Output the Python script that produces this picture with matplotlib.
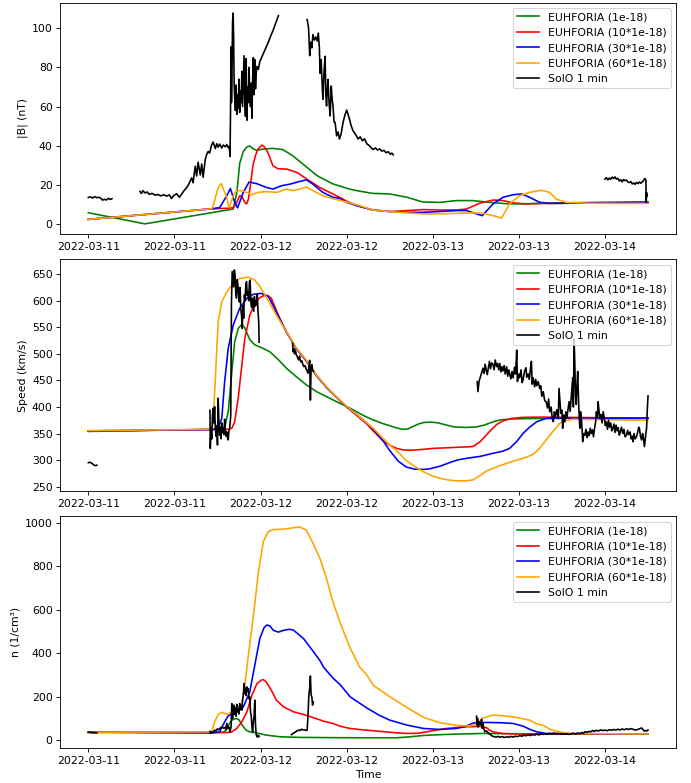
#!/usr/bin/env python3
"""
EUHFORIA runs vs SolO 1 min data: |B|, speed and density
"""
import numpy as np
import matplotlib
matplotlib.use('Agg')
import matplotlib.pyplot as plt
import matplotlib.dates as mdates

# time is in hours after 2022-03-11 00:00, rows are (hour, value)
START = np.datetime64('2022-03-11T00:00:00')

labels = ['EUHFORIA (1e-18)', 'EUHFORIA (10*1e-18)',
          'EUHFORIA (30*1e-18)', 'EUHFORIA (60*1e-18)', 'SolO 1 min']
colors = ['green', 'red', 'blue', 'orange', 'black']

# ---- |B| (nT) ----
green_b = [(0, 5.7), (7.9, 0.0), (20.2, 7.6), (20.7, 16), (21.1, 31), (21.6, 37),
           (22.1, 39.3), (22.5, 39.8), (23.0, 38.3), (23.5, 37.6), (24.3, 38.2),
           (25.7, 38.6), (27.1, 38.0), (28.5, 34.8), (29.9, 30.6), (31.9, 24.6),
           (34.1, 20.4), (36.4, 17.8), (37.4, 17.0), (39.6, 15.6), (42.0, 15.3),
           (44.4, 13.6), (46.6, 11.2), (49.0, 11.0), (51.3, 11.9), (53.6, 11.9),
           (55.9, 11.0), (58.3, 10.3), (60.5, 10.2), (63.0, 10.5), (66.0, 10.7),
           (71.0, 11.0), (78.0, 11.3)]
red_b = [(0, 2.3), (17.2, 7.7), (19.5, 8.0), (20.2, 8.3), (20.7, 11.0), (21.1, 14.4),
         (21.4, 14.0), (21.8, 11.0), (22.06, 10.2), (22.3, 12.5), (22.6, 20),
         (22.94, 29.7), (23.3, 35), (23.64, 38.2), (24.2, 40.3), (24.5, 39.5),
         (25.03, 36.5), (25.72, 29.7), (26.42, 28.2), (27.67, 28.0), (29.07, 26.3),
         (30.46, 22.9), (32.27, 18.6), (34.08, 15.3), (35.1, 13.4), (36.0, 11.6),
         (37.4, 9.4), (39.65, 7.1), (42.0, 6.3), (44.4, 6.8), (46.6, 7.3), (49.0, 7.1),
         (51.3, 7.1), (52.7, 7.6), (54.5, 10.5), (56.4, 12.2), (57.8, 11.9),
         (59.2, 10.7), (61.1, 10.2), (63.0, 10.4), (70.0, 10.7), (78.0, 10.9)]
blue_b = [(0, 2.3), (17.2, 7.7), (18.3, 8.3), (19.3, 14.4), (19.8, 18.1), (20.4, 11.0),
          (20.8, 8.2), (21.6, 16.1), (22.4, 21.4), (23.45, 20.6), (24.85, 18.6),
          (25.72, 17.8), (26.94, 19.5), (28.09, 20.3), (29.48, 21.7), (30.4, 22.5),
          (31.3, 20.3), (32.69, 16.1), (34.08, 13.6), (35.06, 13.0), (35.99, 11.0),
          (37.42, 9.3), (39.65, 7.1), (42.0, 6.3), (44.4, 5.9), (46.6, 5.9), (49.0, 6.3),
          (51.3, 6.8), (52.7, 6.8), (54.1, 5.1), (54.9, 4.2), (56.4, 10.2), (57.8, 13.6),
          (59.2, 14.9), (60.4, 15.3), (61.5, 13.6), (62.9, 11.0), (64.3, 10.5),
          (70.0, 10.6), (78.0, 10.9)]
orange_b = [(0, 2.3), (17.2, 7.7), (17.4, 9.3), (18.1, 18.6), (18.5, 20.6), (19.2, 14.4),
            (19.64, 8.2), (20.19, 14.4), (20.67, 17.0), (21.36, 17.0), (22.06, 16.1),
            (22.76, 14.9), (23.68, 16.1), (24.85, 16.5), (26.24, 16.1), (27.63, 17.8),
            (28.51, 17.0), (29.48, 17.8), (30.42, 18.8), (31.3, 17.0), (32.69, 14.4),
            (34.08, 12.9), (35.99, 11.2), (37.84, 9.3), (39.65, 7.1), (42.0, 6.3),
            (44.4, 5.6), (46.6, 5.1), (49.0, 5.1), (51.3, 5.4), (53.6, 5.6), (55.0, 5.4),
            (56.4, 4.2), (57.6, 3.0), (58.7, 10.2), (60.1, 14.4), (61.5, 16.1),
            (63.1, 17.2), (64.3, 16.1), (65.2, 12.7), (66.6, 11.0), (70.0, 10.5),
            (78.0, 10.5)]
solo_b = [(0.0, 13.5), (0.3, 13.8), (0.6, 13.2), (0.9, 13.9), (1.2, 13.4), (1.5, 13.6),
          (1.8, 12.9), (2.0, 12.1), (2.2, 12.6), (2.5, 12.2), (2.8, 13.0), (3.1, 12.5),
          (3.3, 12.9), (5.0, np.nan),
          (7.2, 16.6), (7.4, 15.5), (7.6, 17.0), (7.9, 15.8), (8.2, 16.3), (8.5, 15.1),
          (8.9, 15.6), (9.3, 14.7), (9.7, 15.0), (10.1, 14.3), (10.5, 14.9), (10.9, 14.2),
          (11.3, 14.8), (11.6, 13.0), (11.9, 14.5), (12.3, 15.4), (12.7, 13.6),
          (13.0, 15.2), (13.3, 16.8), (13.7, 18.5), (14.0, 20.3), (14.4, 23.5),
          (14.6, 21.0), (14.9, 29.5), (15.1, 24.5), (15.3, 31.5), (15.6, 25.0),
          (15.8, 30.6), (16.0, 23.8), (16.3, 33.0), (16.5, 35.5), (16.7, 37.0),
          (16.9, 36.2), (17.2, 40.5), (17.4, 41.8), (17.7, 38.5), (17.9, 41.0),
          (18.1, 39.2), (18.3, 40.8), (18.6, 38.8), (18.8, 40.3), (19.1, 39.4),
          (19.3, 40.6), (19.5, 38.9), (19.65, 39.6), (19.75, 34.5), (19.82, 58.0),
          (19.88, 90.5), (19.95, 62.0), (20.02, 75.0), (20.1, 103.0), (20.18, 107.8),
          (20.25, 96.0), (20.32, 72.0), (20.4, 64.0), (20.5, 58.0), (20.6, 71.0),
          (20.7, 56.0), (20.8, 66.0), (20.9, 59.0), (21.0, 74.0), (21.1, 57.0),
          (21.2, 68.0), (21.3, 62.0), (21.4, 78.0), (21.5, 60.0), (21.6, 73.0),
          (21.7, 86.0), (21.8, 64.0), (21.9, 55.0), (22.0, 84.5), (22.1, 53.0),
          (22.2, 70.0), (22.3, 62.0), (22.4, 80.0), (22.5, 66.0), (22.6, 60.0),
          (22.7, 72.0), (22.8, 54.0), (22.9, 74.0), (23.0, 85.0), (23.1, 66.0),
          (23.2, 84.0), (23.3, 69.0), (23.4, 77.0), (23.5, 80.5), (23.7, 79.0),
          (23.9, 83.0), (24.2, 85.5), (24.5, 88.0), (24.8, 90.5), (25.1, 93.0),
          (25.4, 96.0), (25.7, 98.5), (26.0, 101.5), (26.3, 104.5), (26.5, 106.5),
          (28.0, np.nan),
          (30.5, 104.5), (30.7, 100.0), (30.85, 86.0), (31.0, 93.0), (31.15, 90.0),
          (31.3, 96.8), (31.5, 94.0), (31.7, 95.5), (31.9, 93.5), (32.05, 97.6),
          (32.2, 90.0), (32.3, 77.0), (32.45, 84.0), (32.6, 70.0), (32.7, 63.7),
          (32.85, 78.0), (33.0, 85.7), (33.1, 66.0), (33.2, 60.3), (33.3, 68.0),
          (33.4, 73.9), (33.55, 62.0), (33.7, 55.2), (33.85, 70.5), (34.0, 63.0),
          (34.1, 60.3), (34.25, 52.0), (34.4, 51.8), (34.6, 45.0), (34.8, 47.0),
          (35.0, 43.4), (35.2, 45.5), (35.5, 51.8), (35.75, 55.5), (36.0, 58.2),
          (36.2, 56.0), (36.4, 53.5), (36.6, 50.5), (36.9, 47.5), (37.2, 46.0),
          (37.6, 43.4), (37.9, 44.5), (38.2, 42.5), (38.5, 43.5), (38.8, 41.0),
          (39.1, 40.2), (39.4, 39.0), (39.7, 38.0), (40.0, 38.8), (40.3, 37.8),
          (40.6, 38.3), (40.9, 37.2), (41.2, 37.6), (41.5, 36.4), (41.8, 36.9),
          (42.1, 35.6), (42.3, 36.2), (42.5, 35.3),
          (55.0, np.nan),
          (72.0, 22.9), (72.2, 23.6), (72.4, 22.5), (72.6, 23.4), (72.8, 22.8),
          (73.0, 23.9), (73.2, 23.2), (73.4, 24.0), (73.6, 22.9), (73.8, 23.3),
          (74.0, 21.9), (74.2, 22.6), (74.4, 21.5), (74.6, 22.7), (74.8, 22.1),
          (75.0, 22.4), (75.2, 21.4), (75.4, 21.1), (75.6, 21.6), (75.8, 20.4),
          (76.0, 20.9), (76.2, 20.2), (76.4, 21.2), (76.6, 20.6), (76.8, 21.4),
          (77.0, 20.8), (77.2, 21.5), (77.4, 22.3), (77.55, 23.2), (77.7, 22.6),
          (77.75, 11.0), (77.8, 16.0), (77.85, 14.2)]

# ---- Speed (km/s) ----
green_v = [(0, 354), (17.2, 358), (18.5, 359), (19.0, 361), (19.5, 391), (20.0, 466),
           (20.4, 523), (20.9, 548), (21.4, 555.8), (21.8, 549), (22.5, 527),
           (23.2, 517), (24.1, 512), (25.3, 504), (26.5, 489), (27.6, 473), (29.0, 457),
           (30.4, 441.5), (31.8, 429), (33.2, 419.5), (34.6, 410), (36.0, 401),
           (37.4, 391), (38.5, 383), (39.7, 375.6), (41.0, 369), (42.0, 364.9),
           (43.0, 360.5), (43.8, 358), (44.5, 358.5), (45.2, 363), (46.0, 368),
           (46.8, 371), (47.8, 371.5), (48.8, 370), (49.9, 366), (51.0, 362.5),
           (52.5, 361.5), (54.1, 362.5), (55.2, 366), (56.4, 372), (57.5, 376),
           (59.2, 377.5), (61.0, 378), (63.0, 378.5), (70.0, 379), (78.0, 379.5)]
red_v = [(0, 355), (17.2, 357.5), (19.5, 358), (20.0, 360), (20.4, 372), (20.9, 418),
         (21.4, 479), (21.8, 528), (22.5, 573), (23.2, 595), (23.9, 606), (24.5, 610),
         (25.0, 610), (25.5, 605), (26.2, 582), (27.0, 558), (27.6, 542), (29.0, 510),
         (30.4, 486), (31.8, 459), (33.2, 437), (34.6, 418), (36.0, 400), (37.4, 384),
         (38.8, 368), (39.7, 355), (41.0, 337), (42.0, 328), (43.0, 322), (44.0, 319),
         (45.0, 318.5), (46.0, 319.5), (48.0, 322), (50.4, 323.5), (53.6, 325.5),
         (54.6, 334.7), (55.9, 353.6), (56.9, 367), (57.8, 374), (59.0, 378.5),
         (60.5, 380.5), (63.0, 381), (70.0, 380), (78.0, 379)]
blue_v = [(0, 355), (17.2, 357.5), (18.1, 359), (18.6, 378.8), (19.0, 447.7),
          (19.5, 510.6), (20.2, 554.5), (21.1, 586), (22.1, 604.8), (23.0, 612.3),
          (24.1, 614), (25.1, 608), (25.8, 590), (26.5, 570), (27.6, 541), (29.0, 510),
          (30.4, 487), (31.8, 459), (33.2, 437), (34.6, 418.5), (36.0, 400), (37.4, 386),
          (38.8, 370), (39.7, 358), (41.0, 338), (42.0, 318), (43.2, 298), (44.3, 287),
          (45.5, 283), (46.7, 282.5), (47.5, 283.5), (49.0, 288.5), (50.5, 296),
          (51.5, 300.5), (53.0, 304), (54.6, 307), (56.4, 312.8), (57.8, 317),
          (58.7, 322), (59.7, 335), (60.6, 350.5), (61.5, 362), (62.5, 372.4),
          (63.8, 378.5), (65.0, 379), (70.0, 379), (78.0, 378.5)]
orange_v = [(0, 355.5), (17.2, 358), (17.35, 366), (17.5, 400), (17.8, 479), (18.1, 561),
            (18.6, 598), (19.3, 617), (20.2, 633), (21.1, 642), (22.3, 644.5),
            (23.2, 639), (23.9, 627), (24.9, 605), (26.2, 573), (27.6, 542), (29.0, 511),
            (30.4, 488), (31.8, 460), (33.2, 438), (34.6, 419), (36.0, 401), (37.4, 386),
            (38.8, 370), (39.7, 360), (41.0, 342), (42.0, 328.5), (43.4, 312),
            (44.3, 299), (45.5, 288), (46.7, 278.2), (48.0, 270), (49.0, 265.8),
            (50.2, 262.5), (51.3, 261), (52.5, 261), (53.6, 262.6), (54.5, 270),
            (55.5, 279.6), (57.0, 287.7), (58.3, 294), (59.7, 300), (61.1, 305.5),
            (62.0, 311), (62.9, 322.3), (63.8, 338), (64.8, 355), (65.7, 369.4),
            (66.4, 374), (67.5, 377), (70.0, 376.5), (78.0, 375)]
solo_v = [(0.0, 295), (0.15, 296), (0.3, 295.5), (0.5, 294), (0.7, 291.5), (0.9, 290),
          (1.05, 289.5), (1.2, 290.5), (8.0, np.nan),
          (16.95, 394), (17.0, 322), (17.1, 360), (17.2, 340), (17.3, 385), (17.4, 397.6),
          (17.5, 370), (17.6, 400.6), (17.7, 360), (17.8, 345), (17.9, 365),
          (18.0, 328.5), (18.1, 416.5), (18.2, 372), (18.3, 347), (18.4, 362),
          (18.5, 340), (18.6, 370), (18.7, 352), (18.8, 360), (18.9, 348), (19.0, 377),
          (19.1, 358), (19.2, 345), (19.3, 353), (19.4, 342), (19.5, 338), (19.6, 355),
          (19.7, 360), (19.85, 383.5), (19.95, 598), (20.05, 655), (20.15, 640),
          (20.25, 626), (20.35, 658), (20.45, 649), (20.55, 615), (20.65, 605),
          (20.75, 640), (20.85, 630), (20.95, 610), (21.05, 598), (21.15, 625),
          (21.25, 585), (21.35, 573), (21.45, 548), (21.55, 590), (21.65, 567),
          (21.75, 611), (21.85, 600), (21.95, 630), (22.05, 636), (22.15, 610),
          (22.25, 617), (22.35, 600), (22.45, 636), (22.55, 639), (22.65, 598),
          (22.75, 588), (22.85, 605), (22.95, 592), (23.05, 580), (23.15, 608),
          (23.25, 590), (23.35, 600), (23.45, 592), (23.55, 612), (23.65, 579.6),
          (23.75, 560), (23.8, 522), (26.0, np.nan),
          (28.46, 520), (28.55, 504), (28.65, 510), (28.75, 500), (28.85, 507),
          (29.0, 498), (29.15, 494), (29.3, 488.6), (29.45, 496), (29.6, 485),
          (29.75, 487), (29.9, 480), (30.05, 476), (30.2, 478), (30.35, 472),
          (30.5, 468), (30.6, 463.6), (30.7, 470), (30.85, 488), (30.95, 413),
          (31.05, 475), (31.15, 479.8), (31.25, 470), (31.4, 467), (45.0, np.nan),
          (54.2, 447.7), (54.3, 429), (54.45, 448), (54.6, 455), (54.8, 465), (55.0, 473),
          (55.15, 463), (55.3, 480.5), (55.45, 470), (55.6, 461), (55.75, 474),
          (55.9, 486), (56.05, 472), (56.2, 483), (56.4, 480), (56.55, 470),
          (56.7, 488.6), (56.9, 476), (57.05, 482), (57.2, 470), (57.35, 482),
          (57.5, 466), (57.65, 476), (57.8, 468), (57.95, 478), (58.1, 462), (58.3, 476),
          (58.45, 458), (58.6, 470), (58.75, 460), (58.9, 453), (59.05, 467),
          (59.2, 455), (59.4, 475), (59.55, 462), (59.7, 507), (59.8, 448),
          (59.95, 462), (60.1, 455), (60.3, 470), (60.45, 446), (60.6, 452),
          (60.8, 468), (61.0, 474), (61.1, 456), (61.3, 462), (61.45, 452), (61.6, 470),
          (61.75, 486), (61.85, 443), (62.0, 455), (62.2, 438), (62.35, 452),
          (62.5, 440), (62.7, 448), (62.9, 435), (63.05, 440), (63.2, 420), (63.4, 429),
          (63.6, 412), (63.8, 410), (64.0, 398), (64.15, 415), (64.3, 391), (64.5, 400),
          (64.65, 378), (64.8, 372.4), (64.95, 391), (65.1, 382), (65.3, 395),
          (65.5, 378), (65.6, 435), (65.7, 416.5), (65.85, 388), (66.0, 394),
          (66.1, 360), (66.25, 385), (66.4, 372), (66.55, 391), (66.7, 380),
          (66.85, 395), (67.0, 410), (67.15, 392), (67.3, 420), (67.5, 455), (67.6, 400),
          (67.7, 529.5), (67.8, 480), (67.9, 420), (68.0, 405), (68.1, 441), (68.2, 467),
          (68.35, 400), (68.5, 360), (68.6, 391), (68.75, 372), (68.9, 334.7),
          (69.05, 350), (69.2, 347), (69.35, 358), (69.5, 342), (69.65, 353),
          (69.8, 346), (69.95, 360), (70.1, 350), (70.25, 357), (70.4, 344),
          (70.55, 360), (70.7, 372), (70.8, 391), (70.95, 380), (71.05, 410),
          (71.15, 395), (71.3, 378), (71.45, 386), (71.6, 370), (71.75, 391),
          (71.9, 380), (72.05, 365), (72.2, 372), (72.35, 358), (72.5, 375),
          (72.65, 362), (72.8, 370), (72.95, 355), (73.1, 360), (73.25, 368),
          (73.4, 352), (73.55, 366), (73.7, 355), (73.85, 361), (74.0, 347),
          (74.15, 353), (74.3, 362), (74.5, 350), (74.65, 358), (74.8, 344), (75.0, 347),
          (75.15, 356), (75.3, 348), (75.5, 353), (75.65, 340), (75.8, 345),
          (75.9, 334.7), (76.05, 350), (76.2, 340), (76.4, 344), (76.55, 352),
          (76.7, 362), (76.8, 360), (76.95, 345), (77.1, 338), (77.25, 350),
          (77.35, 342), (77.5, 325.3), (77.6, 338), (77.7, 350), (77.8, 360),
          (77.9, 395), (78.0, 421)]

# ---- Density (1/cm3) ----
green_n = [(0, 37), (17.2, 35), (18.8, 36), (19.2, 45), (19.6, 72), (20.0, 92),
           (20.6, 99.7), (21.0, 93), (21.5, 66), (22.0, 45), (22.6, 37), (23.2, 35),
           (23.7, 31), (24.8, 23), (26.7, 15.3), (29.5, 12.5), (34.1, 11.2), (38.0, 10.7),
           (42.9, 10.7), (44.5, 14), (46.7, 21.4), (49.0, 25), (51.3, 27.6), (55.0, 30.6),
           (60.0, 29), (78.0, 28)]
red_n = [(0, 36), (17.2, 34), (19.5, 35), (20.0, 38), (20.7, 54), (21.4, 84), (22.1, 130),
         (22.8, 207), (23.5, 260), (24.1, 276), (24.4, 278), (24.8, 268), (25.5, 230),
         (26.2, 184), (27.2, 153), (28.6, 130), (30.0, 118), (31.3, 104), (32.8, 87),
         (34.1, 76.6), (35.1, 64), (36.4, 54), (38.3, 47), (39.7, 43), (42.9, 33.7),
         (44.4, 30.6), (45.7, 31), (46.5, 34), (48.5, 46), (49.5, 52), (51.3, 58),
         (52.5, 61), (54.6, 63), (55.5, 57), (55.9, 46), (56.4, 38), (57.8, 30),
         (61.5, 27.6), (78.0, 27.6)]
blue_n = [(0, 36), (17.2, 34), (18.3, 38), (19.0, 84), (19.5, 112), (20.2, 122),
          (20.7, 130), (21.6, 153), (22.5, 222), (23.2, 344.5), (23.9, 467), (24.5, 518),
          (24.9, 530), (25.3, 525), (25.8, 505), (26.5, 497), (27.2, 505), (28.0, 510),
          (28.6, 506), (30.0, 467), (31.3, 410), (32.3, 365), (32.8, 335), (34.1, 285),
          (35.1, 255), (36.5, 199), (38.8, 148), (40.5, 115), (42.0, 92), (44.4, 69),
          (46.7, 53.6), (49.0, 49), (51.3, 53.6), (52.5, 62), (53.6, 78), (54.5, 81),
          (55.9, 81), (57.5, 80), (59.2, 76.6), (60.6, 64), (61.5, 50), (62.5, 38),
          (63.8, 30.6), (78.0, 28)]
orange_n = [(0, 36), (17.2, 38), (17.6, 84), (18.1, 118), (18.6, 128), (19.3, 119),
            (20.0, 128), (20.7, 142), (21.4, 168.5), (21.8, 250), (22.3, 390), (23.0, 570),
            (23.7, 773), (24.4, 915), (25.1, 960), (25.8, 969), (26.9, 970), (28.1, 975),
            (29.5, 981), (30.4, 966), (31.3, 907), (32.3, 834.5), (33.2, 743), (34.1, 635),
            (35.1, 540), (36.4, 430), (37.8, 337), (38.8, 300), (39.7, 252.6), (42.0, 200),
            (44.4, 150), (46.7, 105), (49.0, 80), (51.3, 68), (53.0, 65), (54.1, 72),
            (55.0, 102), (56.4, 115), (57.5, 113), (59.2, 107), (61.5, 92), (62.5, 75),
            (63.4, 68), (64.3, 50), (64.8, 45), (66.1, 35), (67.5, 30), (78.0, 28)]
solo_n = [(0.0, 35), (0.2, 37), (0.4, 33), (0.6, 36), (0.8, 32), (1.0, 35), (1.2, 33),
          (8.0, np.nan),
          (16.95, 40), (17.05, 31), (17.2, 38), (17.4, 35), (17.6, 46), (17.8, 42),
          (18.0, 52), (18.2, 48), (18.4, 56), (18.6, 60), (18.8, 55), (19.0, 58),
          (19.15, 50), (19.3, 77), (19.45, 54), (19.6, 60), (19.75, 38), (19.9, 62),
          (20.0, 168), (20.1, 100), (20.2, 140), (20.3, 161), (20.4, 118), (20.5, 150),
          (20.6, 110), (20.7, 165), (20.8, 130), (20.9, 145), (21.0, 120), (21.1, 168),
          (21.2, 140), (21.3, 155), (21.4, 138), (21.5, 185), (21.6, 207), (21.7, 260),
          (21.8, 215), (21.9, 240), (22.0, 205), (22.1, 245), (22.2, 225), (22.3, 237),
          (22.4, 190), (22.5, 199), (22.6, 130), (22.7, 115), (22.8, 60), (22.9, 38),
          (23.0, 84), (23.1, 110), (23.2, 184), (23.3, 70), (23.4, 25), (23.5, 15),
          (23.6, 22), (23.7, 14), (23.8, 18), (26.0, np.nan),
          (28.3, 25), (28.5, 30), (28.7, 34), (28.9, 38), (29.1, 43), (29.3, 46),
          (29.5, 44), (29.7, 50), (29.9, 47), (30.1, 48), (30.3, 44), (30.5, 46),
          (30.6, 107), (30.75, 214), (30.85, 237), (30.95, 295), (31.05, 207),
          (31.15, 199), (31.25, 161), (31.35, 176), (45.0, np.nan),
          (54.1, 110), (54.15, 70), (54.25, 100), (54.35, 60), (54.5, 84), (54.65, 70),
          (54.8, 96), (54.9, 54), (55.0, 76), (55.15, 48), (55.3, 38), (55.5, 42),
          (55.7, 35), (55.9, 28), (56.1, 24), (56.3, 18), (56.5, 16), (56.8, 14),
          (57.1, 17), (57.4, 13), (57.7, 16), (58.0, 12), (58.3, 15), (58.6, 13),
          (58.9, 17), (59.2, 14), (59.5, 18), (59.8, 16), (60.1, 20), (60.4, 18),
          (60.7, 22), (61.0, 20), (61.3, 24), (61.6, 21), (61.9, 25), (62.2, 23),
          (62.5, 27), (62.8, 24), (63.1, 28), (63.4, 26), (63.7, 29), (64.0, 27),
          (64.3, 31), (64.6, 28), (64.9, 32), (65.2, 29), (65.5, 31), (65.8, 27),
          (66.1, 30), (66.4, 27), (66.7, 29), (67.0, 26), (67.3, 29), (67.6, 31),
          (67.9, 28), (68.2, 32), (68.5, 30), (68.8, 35), (69.0, 31), (69.2, 38),
          (69.5, 36), (69.8, 40), (70.0, 38), (70.3, 44), (70.5, 40), (70.8, 45),
          (71.1, 42), (71.4, 47), (71.7, 44), (72.0, 46), (72.3, 43), (72.6, 48),
          (72.9, 45), (73.2, 49), (73.5, 46), (73.8, 50), (74.1, 47), (74.4, 51),
          (74.7, 48), (75.0, 52), (75.3, 49), (75.6, 53), (75.9, 50), (76.2, 46),
          (76.5, 48), (76.8, 52), (77.1, 56), (77.3, 48), (77.5, 41), (77.7, 45),
          (77.85, 42), (78.0, 46)]


def split(rows):
    """Turn (hour, value) rows into datetimes and values."""
    arr = np.array(rows, dtype=float)
    secs = np.round(arr[:, 0] * 3600).astype('int64').astype('timedelta64[s]')
    return START + secs, arr[:, 1]


panels = [
    ([green_b, red_b, blue_b, orange_b, solo_b], '|B| (nT)'),
    ([green_v, red_v, blue_v, orange_v, solo_v], 'Speed (km/s)'),
    ([green_n, red_n, blue_n, orange_n, solo_n], 'n (1/cm³)'),
]

# the reference is a downscaled render, so draw at 78 dpi
DPI = 78
fig, axes = plt.subplots(3, 1, figsize=(691 / DPI, 783 / DPI), dpi=DPI)
fig.subplots_adjust(left=0.0873, right=0.9783, top=0.9968, bottom=0.0443,
                    hspace=0.108)

for ax, (series, ylabel) in zip(axes, panels):
    for rows, color, label in zip(series, colors, labels):
        t, y = split(rows)
        ax.plot(t, y, color=color, label=label)
    ax.set_ylabel(ylabel)
    ax.xaxis.set_major_locator(mdates.HourLocator(byhour=[0, 12]))
    ax.xaxis.set_major_formatter(mdates.DateFormatter('%Y-%m-%d'))
    ax.legend(loc='upper right')

axes[2].set_xlabel('Time')

plt.savefig('out.png', dpi=DPI)
